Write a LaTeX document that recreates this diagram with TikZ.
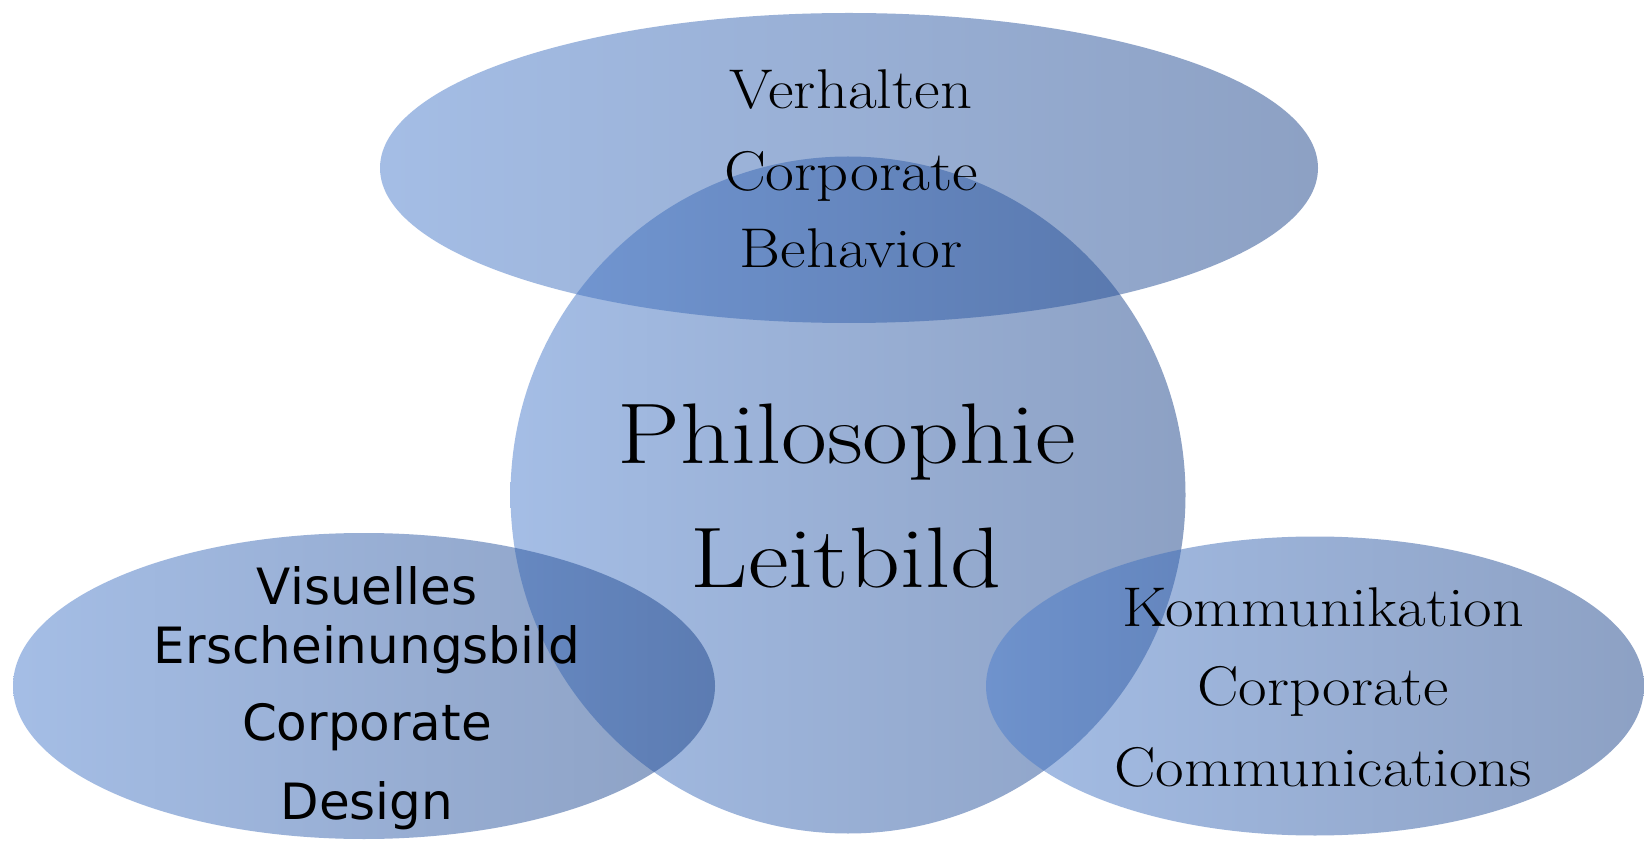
\documentclass[tikz,border=0pt]{standalone}
\usepackage{fontspec}
\usepackage{graphicx}
\newfontfamily\labelsans{DejaVu Sans}
\usetikzlibrary{shapes.geometric}
\definecolor{blobL}{RGB}{75,125,205}
\definecolor{blobR}{RGB}{28,68,138}
\newcommand{\stretchx}[2]{\scalebox{#1}[1]{#2}}
\begin{document}
\begin{tikzpicture}[x=0.5pt,y=-0.5pt,
  blob/.style={ellipse, inner sep=0pt, draw=none, left color=blobL, right color=blobR, fill opacity=0.5},
  serif/.style={anchor=base, inner sep=0pt, font=\fontsize{28}{34}\selectfont},
  big/.style={anchor=base, inner sep=0pt, font=\fontsize{43}{50}\selectfont},
  sans/.style={anchor=base, inner sep=0pt, font=\fontsize{25}{30}\labelsans}]
\useasboundingbox[fill=white] (0,0) rectangle (1644,844);
% shapes
\node[blob, minimum width=337.5pt, minimum height=338.5pt] (core) at (848,495) {};
\node[blob, minimum width=469pt, minimum height=155pt] (top) at (849,168) {};
\node[blob, minimum width=351pt, minimum height=153pt] (left) at (364,686) {};
\node[blob, minimum width=329pt, minimum height=149.5pt] (right) at (1315,686) {};
% texts
\node[serif] (t1) at (851,109) {\stretchx{1.12}{Verhalten}};
\node[serif] (t2) at (851,191) {\stretchx{1.12}{Corporate}};
\node[serif] (t3) at (851,268) {\stretchx{1.12}{Behavior}};
\node[big] (c1) at (847,464) {\stretchx{1.16}{Philosophie}};
\node[big] (c2) at (846,587) {\stretchx{1.16}{Leitbild}};
\node[serif] (r1) at (1323,626) {\stretchx{1.11}{Kommunikation}};
\node[serif] (r2) at (1323,705) {\stretchx{1.11}{Corporate}};
\node[serif] (r3) at (1323,786) {\stretchx{1.11}{Communications}};
\node[sans] (l1) at (367,604) {Visuelles};
\node[sans] (l2) at (367,663) {Erscheinungsbild};
\node[sans] (l3) at (367,740) {Corporate};
\node[sans] (l4) at (367,819) {Design};
\end{tikzpicture}
\end{document}
